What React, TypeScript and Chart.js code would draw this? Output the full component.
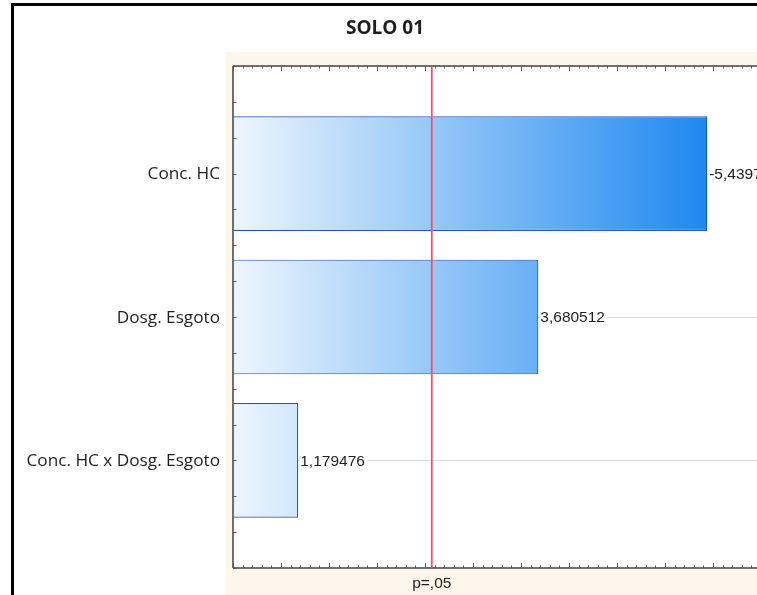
import React, { useEffect, useRef } from "react";
import { Chart, registerables } from "chart.js";

Chart.register(...registerables);

// ---- data ----
const categories = ["Conc. HC", "Dosg. Esgoto", "Conc. HC x Dosg. Esgoto"];
const positions = [1, 2, 3];
const effects = [5.4397, 3.680512, 1.179476];
const valueLabels = ["-5,439712", "3,680512", "1,179476"];
const titleText = "SOLO 01";
const pLabel = "p=,05";
const criticalValue = 2.5706;
const xMin = 0.5;
const xMax = 6;
const yMin = 0.25;
const yMax = 3.75;

const W = 762;
const H = 595;

const decorPlugin = {
  id: "decor",
  beforeDraw(chart: any) {
    const { ctx, chartArea: a } = chart;
    ctx.save();
    ctx.fillStyle = "#ffffff";
    ctx.fillRect(0, 0, W, H);
    // cream panel
    ctx.fillStyle = "#fcf7ea";
    ctx.fillRect(226, 52, W - 226, H - 52);
    // plot white
    ctx.fillStyle = "#ffffff";
    ctx.fillRect(a.left, a.top, a.right - a.left, a.bottom - a.top);
    // black frame
    ctx.fillStyle = "#000000";
    ctx.fillRect(11, 3, W - 11, 3);
    ctx.fillRect(11, 3, 3, H - 3);
    ctx.restore();
  },
  beforeDatasetsDraw(chart: any) {
    const { ctx, chartArea: a, scales } = chart;
    ctx.save();
    ctx.strokeStyle = "#dcdcdc";
    ctx.lineWidth = 1;
    positions.forEach((p) => {
      const y = Math.round(scales.y.getPixelForValue(p)) + 0.5;
      ctx.beginPath();
      ctx.moveTo(a.left, y);
      ctx.lineTo(a.right, y);
      ctx.stroke();
    });
    ctx.restore();
  },
  afterDatasetsDraw(chart: any) {
    const { ctx, chartArea: a, scales } = chart;
    const xs = scales.x;
    const ys = scales.y;
    ctx.save();

    // value labels
    ctx.font = "15.5px 'Liberation Sans', Arial, sans-serif";
    ctx.textBaseline = "middle";
    ctx.textAlign = "left";
    effects.forEach((v, i) => {
      const x = xs.getPixelForValue(v) + 2;
      const y = ys.getPixelForValue(positions[i]);
      const w = ctx.measureText(valueLabels[i]).width;
      ctx.fillStyle = "#ffffff";
      ctx.fillRect(x, y - 8, w + 2, 16);
      ctx.fillStyle = "#1e1e1e";
      ctx.fillText(valueLabels[i], x, y + 1);
    });

    // critical line
    const cx = xs.getPixelForValue(criticalValue);
    ctx.strokeStyle = "#e4566a";
    ctx.lineWidth = 1.8;
    ctx.beginPath();
    ctx.moveTo(cx, a.top);
    ctx.lineTo(cx, a.bottom);
    ctx.stroke();

    // axes
    ctx.strokeStyle = "#6f6f6f";
    ctx.lineWidth = 2;
    ctx.beginPath();
    ctx.moveTo(a.left, a.top);
    ctx.lineTo(a.right, a.top);
    ctx.moveTo(a.left, a.top);
    ctx.lineTo(a.left, a.bottom);
    ctx.moveTo(a.left, a.bottom);
    ctx.lineTo(a.right, a.bottom);
    ctx.moveTo(a.right, a.top);
    ctx.lineTo(a.right, a.bottom);
    ctx.stroke();

    // x ticks (top and bottom, inward)
    ctx.lineWidth = 1;
    ctx.strokeStyle = "#555555";
    ctx.beginPath();
    for (let k = Math.round(xMin * 10); k <= Math.round(xMax * 10); k++) {
      const x = Math.round(xs.getPixelForValue(k / 10)) + 0.5;
      const len = k % 5 === 0 ? 5 : 2.5;
      ctx.moveTo(x, a.bottom);
      ctx.lineTo(x, a.bottom - len);
      ctx.moveTo(x, a.top);
      ctx.lineTo(x, a.top + len);
    }
    // y ticks (left and right, inward)
    for (let k = Math.round(yMin * 4); k <= Math.round(yMax * 4); k++) {
      const y = Math.round(ys.getPixelForValue(k / 4)) + 0.5;
      ctx.moveTo(a.left, y);
      ctx.lineTo(a.left + 3.5, y);
      ctx.moveTo(a.right, y);
      ctx.lineTo(a.right - 3.5, y);
    }
    ctx.stroke();

    // category labels
    ctx.fillStyle = "#1e1e1e";
    ctx.font = "17.2px 'Open Sans', 'Noto Sans', sans-serif";
    ctx.textAlign = "right";
    ctx.textBaseline = "middle";
    categories.forEach((c, i) => {
      ctx.fillText(c, 220, ys.getPixelForValue(positions[i]) + 1);
    });

    // p label
    ctx.font = "15.5px 'Liberation Sans', Arial, sans-serif";
    ctx.textAlign = "center";
    ctx.fillText(pLabel, cx, a.bottom + 16);

    // title
    ctx.font = "bold 19px 'Open Sans', 'Noto Sans', sans-serif";
    ctx.fillText(titleText, 385, 29);

    ctx.restore();
  },
};

export default function App() {
  const ref = useRef<HTMLCanvasElement | null>(null);

  useEffect(() => {
    const canvas = ref.current;
    if (!canvas) return;
    const chart = new Chart(canvas, {
      type: "bar",
      data: {
        datasets: [
          {
            data: effects.map((v, i) => ({ x: v, y: positions[i] })),
            base: xMin,
            barPercentage: 0.8,
            categoryPercentage: 1,
            borderWidth: 1.2,
            borderColor: "#2a54b4",
            borderSkipped: false,
            backgroundColor: (ctx: any) => {
              const a = ctx.chart.chartArea;
              if (!a) return "#6aaef5";
              const g = ctx.chart.ctx.createLinearGradient(a.left, 0, a.right, 0);
              g.addColorStop(0, "rgb(237,246,254)");
              g.addColorStop(0.9, "rgb(30,136,240)");
              g.addColorStop(1, "rgb(18,128,238)");
              return g;
            },
          } as any,
        ],
      },
      options: {
        indexAxis: "y",
        animation: false,
        responsive: false,
        devicePixelRatio: 1,
        layout: { padding: { left: 233, top: 66, right: 1, bottom: 27 } },
        plugins: { legend: { display: false }, tooltip: { enabled: false } },
        scales: {
          x: { type: "linear", min: xMin, max: xMax, display: false, offset: false },
          y: {
            type: "linear",
            min: yMin,
            max: yMax,
            reverse: true,
            display: false,
            offset: false,
            ticks: { stepSize: 1, includeBounds: false },
          },
        },
      },
      plugins: [decorPlugin],
    } as any);
    if ((document as any).fonts && (document as any).fonts.ready) {
      (document as any).fonts.ready.then(() => chart.draw());
    }
    return () => chart.destroy();
  }, []);

  return (
    <div
      style={{
        position: "fixed",
        left: 0,
        top: 0,
        width: 757,
        height: 595,
        overflow: "hidden",
        background: "#fff",
      }}
    >
      <canvas ref={ref} width={W} height={H} style={{ width: W, height: H, display: "block" }} />
    </div>
  );
}
